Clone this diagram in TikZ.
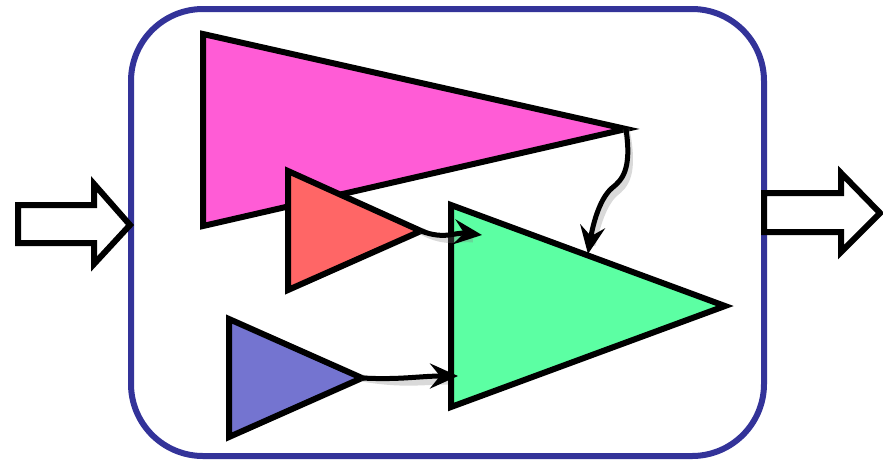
\documentclass[tikz,border=0pt]{standalone}
\usetikzlibrary{arrows.meta}
\definecolor{boxblue}{RGB}{51,51,153}
\definecolor{pinkfill}{RGB}{255,92,214}
\definecolor{redfill}{RGB}{255,102,102}
\definecolor{greenfill}{RGB}{92,255,163}
\definecolor{bluefill}{RGB}{116,116,208}
\begin{document}
\begin{tikzpicture}[x=1pt, y=-1pt, >={Stealth[length=28pt, width=25pt, inset=10pt]}, line join=miter]
    \useasboundingbox (0,0) rectangle (883,459);
    % outer box
    \draw[boxblue, line width=6pt, rounded corners=72pt] (131,9) rectangle (764,456);
    % in and out arrows
    \draw[line width=6pt, fill=white] (18,205) -- (94,205) -- (94,184) -- (130,225) -- (94,264) -- (94,243) -- (18,243) -- cycle;
    \draw[line width=6pt, fill=white] (764,193) -- (841,193) -- (841,173) -- (880,213) -- (841,252) -- (841,232) -- (764,232) -- cycle;
    % amplifiers
    \draw[line width=6pt, fill=pinkfill] (203,34) -- (203,226) -- (626,129) coordinate (pinkTip) -- cycle;
    \draw[line width=6pt, fill=redfill] (288,171) -- (288,290) -- (421,231) coordinate (redTip) -- cycle;
    \draw[line width=6pt, fill=greenfill] (451,205) coordinate (greenTop) -- (451,407) -- (725,306) -- cycle;
    \draw[line width=6pt, fill=bluefill] (229,319) -- (229,437) -- (362,378) coordinate (blueTip) -- cycle;
    \coordinate (greenIn) at (482,235);
    \coordinate (greenLow) at (458,376);
    \coordinate (greenEdge) at (588,254);
    % connectors, with a soft shadow
    \begin{scope}[gray, opacity=0.3, line width=7pt, shift={(3,5)}]
        \draw (pinkTip) .. controls (632,170) and (622,180) .. (612,188) .. controls (598,200) and (592,230) .. (589,240);
        \draw (redTip) .. controls (445,240) and (455,232) .. (470,234);
        \draw (blueTip) .. controls (400,380) and (420,376) .. (445,376);
    \end{scope}
    \draw[->, line width=5pt] (pinkTip) .. controls (632,170) and (622,180) .. (612,188) .. controls (598,200) and (592,230) .. (greenEdge);
    \draw[->, line width=5pt] (redTip) .. controls (445,240) and (455,232) .. (greenIn);
    \draw[->, line width=5pt] (blueTip) .. controls (400,380) and (420,376) .. (greenLow);
\end{tikzpicture}
\end{document}
